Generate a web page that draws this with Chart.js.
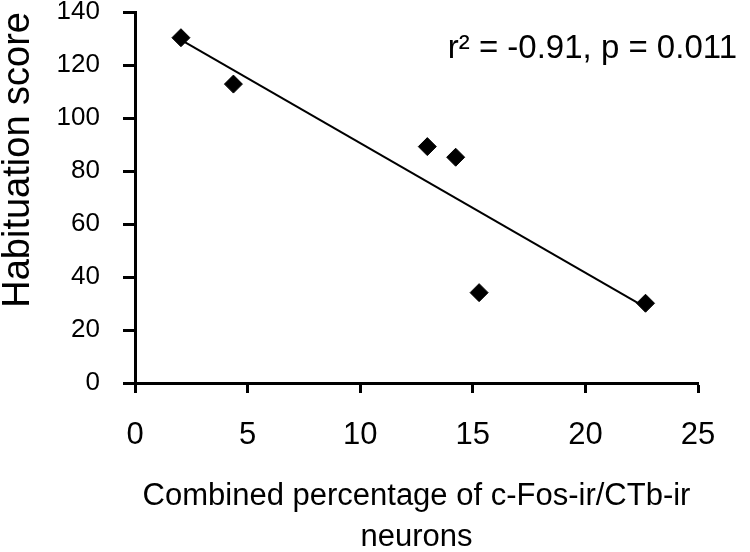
<!DOCTYPE html>
<html>
<head>
<meta charset="utf-8">
<script src="https://cdn.jsdelivr.net/npm/chart.js@4"></script>
<style>
  html, body { margin: 0; padding: 0; background: #fff; }
  #wrap { width: 750px; height: 552px; }
</style>
</head>
<body>
<div id="wrap"><canvas id="scatterChart"></canvas></div>
<script>
// values
const percentFos = [2.04, 4.37, 12.98, 14.24, 15.28, 22.67];
const habituationScore = [130.3, 112.8, 89.2, 85.2, 34.1, 30.1];
// regression line end points
const fitX = [2.04, 22.67];
const fitY = [129.5, 28.5];
const xTicks = [0, 5, 10, 15, 20, 25];
const yTicks = [0, 20, 40, 60, 80, 100, 120, 140];
const statsText = 'r\u00B2 = -0.91, p = 0.011';

const ctx = document.getElementById('scatterChart').getContext('2d');
Chart.defaults.font.family = '"Liberation Sans", Arial, sans-serif';
Chart.defaults.color = '#000';

// r/p note in the top right corner
const statsLabel = {
    id: 'statsLabel',
    afterDraw(chart) {
        const c = chart.ctx;
        c.save();
        c.font = '33px "Liberation Sans", Arial, sans-serif';
        c.fillStyle = '#000';
        c.textAlign = 'right';
        c.textBaseline = 'alphabetic';
        c.fillText(statsText, 737, 58);
        c.restore();
    }
};

const chart = new Chart(ctx, {
    type: 'scatter',
    data: {
        datasets: [{
            data: percentFos.map((x, i) => ({ x: x, y: habituationScore[i] })),
            pointStyle: 'rectRot',
            pointRadius: 9,
            pointHoverRadius: 9,
            backgroundColor: '#000',
            borderColor: '#000',
            borderWidth: 1
        }, {
            data: fitX.map((x, i) => ({ x: x, y: fitY[i] })),
            showLine: true,
            pointRadius: 0,
            borderColor: '#000',
            borderWidth: 2
        }]
    },
    options: {
        responsive: true,
        maintainAspectRatio: false,
        animation: false,
        layout: { padding: { top: 12, right: 52, left: 0, bottom: 0 } },
        plugins: { legend: { display: false }, tooltip: { enabled: false } },
        scales: {
            x: {
                type: 'linear',
                min: 0, max: 25,
                afterBuildTicks: s => { s.ticks = xTicks.map(v => ({ value: v })); },
                afterFit: s => { s.height = 169; },
                grid: { drawOnChartArea: false, tickLength: 10, tickWidth: 3, tickColor: '#000' },
                border: { color: '#000', width: 3 },
                ticks: { font: { size: 31 }, padding: 24, maxRotation: 0 },
                title: {
                    display: true,
                    text: ['Combined percentage of c-Fos-ir/CTb-ir', 'neurons'],
                    font: { size: 31, lineHeight: 1.32 },
                    padding: { top: 0, bottom: -6 }
                }
            },
            y: {
                type: 'linear',
                min: 0, max: 140,
                afterBuildTicks: s => { s.ticks = yTicks.map(v => ({ value: v })); },
                afterFit: s => { s.width = 135; s.paddingTop = 0; s.paddingBottom = 0; },
                grid: { drawOnChartArea: false, tickLength: 12, tickWidth: 3, tickColor: '#000' },
                border: { color: '#000', width: 3 },
                ticks: { font: { size: 26 }, padding: 23 },
                title: {
                    display: true,
                    text: 'Habituation score',
                    align: 'end',
                    font: { size: 38, lineHeight: 1 },
                    padding: { top: 0, bottom: 0 }
                }
            }
        }
    },
    plugins: [statsLabel]
});
</script>
</body>
</html>
